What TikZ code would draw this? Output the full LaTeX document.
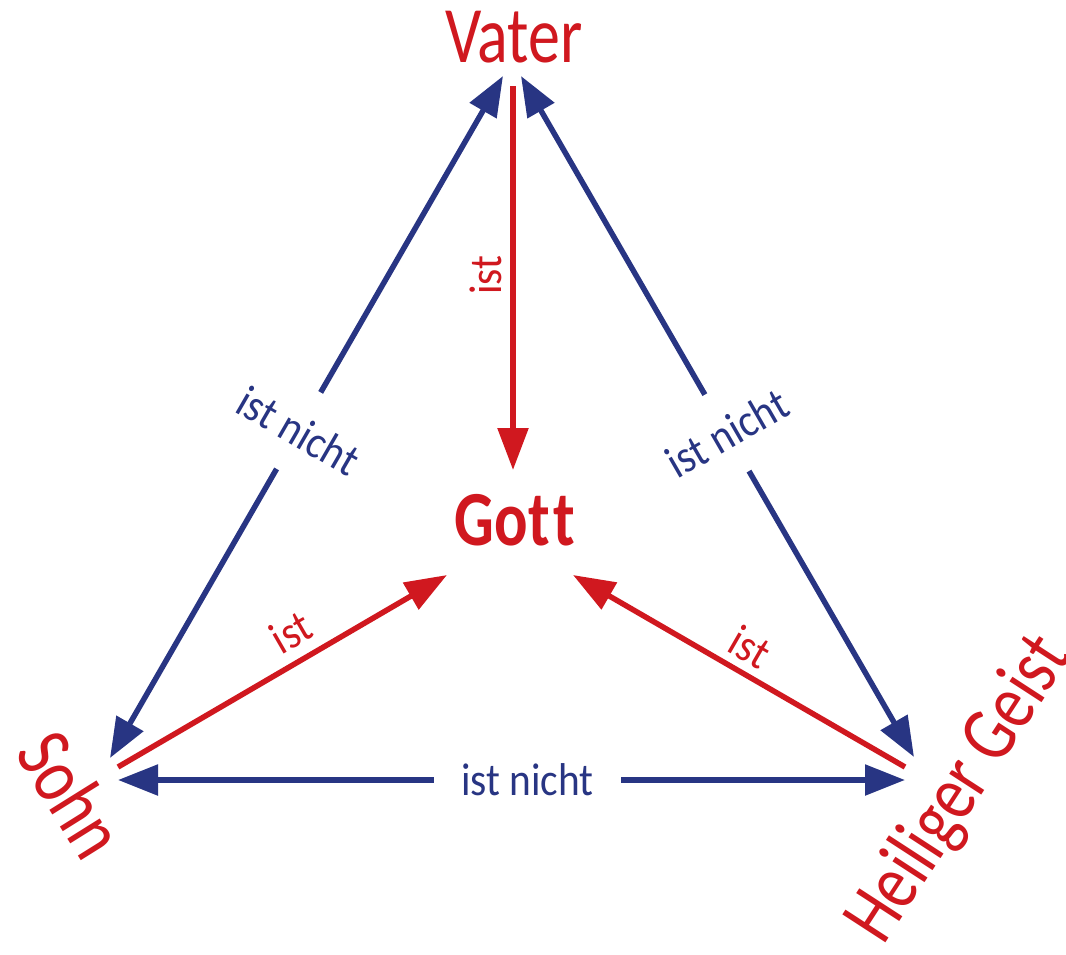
\documentclass[tikz,border=0pt]{standalone}
\usepackage{fontspec}
\setmainfont{Carlito}
\newfontfamily\bigfont{Carlito}[FakeStretch=0.8, Ligatures=NoCommon]
\newfontfamily\lblfont{Carlito}[FakeStretch=0.9]
\usetikzlibrary{arrows.meta}
\definecolor{tred}{HTML}{D0181F}
\definecolor{tblue}{HTML}{283583}
\tikzset{
  title/.style={text=tred, font=\bigfont\fontsize{80}{80}\selectfont, inner sep=0pt},
  lbl/.style={font=\lblfont\fontsize{46}{46}\selectfont, inner sep=0pt},
  bluearrow/.style={draw=tblue, line width=5.5pt, {Triangle[length=40pt,width=30pt]}-{Triangle[length=40pt,width=30pt]}},
  redarrow/.style={draw=tred, line width=5.5pt, -{Triangle[length=42pt,width=30pt]}},
  gapnode/.style={lbl, text=tblue, fill=white, inner xsep=2pt, minimum height=88pt},
  redlbl/.style={lbl, text=tred, anchor=south}
}
\begin{document}
\begin{tikzpicture}[x=1pt,y=-1pt]
\useasboundingbox[fill=white] (0,0) rectangle (1066,954);
% main nodes
\node[title, anchor=base] (vater) at (514,62) {Vater};
\node[title, anchor=base, font=\bigfont\bfseries\fontsize{78}{78}\selectfont] (gott) at (515,545) {Got\kern4pt t};
\node[title, rotate=-58] (sohn) at (72,794) {Sohn};
\node[title, rotate=57] (hg) at (960,790) {Heiliger Geist};
% connector end points
\coordinate (vL) at (503,76);
\coordinate (vR) at (521,76);
\coordinate (vC) at (513,86);
\coordinate (sA) at (110,758);
\coordinate (sR) at (118,767);
\coordinate (sB) at (118,780);
\coordinate (hA) at (914,757);
\coordinate (hR) at (905,767);
\coordinate (hB) at (905,780);
\coordinate (gV) at (513,470);
\coordinate (gL) at (447,575);
\coordinate (gR) at (573,575);
% blue "ist nicht" arrows
\draw[bluearrow] (sA) -- node[gapnode, pos=0.48, rotate=-30] (ln) {ist nicht} (vL);
\draw[bluearrow] (vR) -- node[gapnode, pos=0.524, rotate=30] (rn) {ist nicht} (hA);
\draw[bluearrow] (sB) -- node[gapnode, pos=0.52, minimum width=187pt, minimum height=20pt] (bn) {ist nicht} (hB);
% red "ist" arrows
\draw[redarrow] (vC) -- (gV);
\draw[redarrow] (sR) -- (gL);
\draw[redarrow] (hR) -- (gR);
\node[redlbl, rotate=90] (li1) at (502,275) {ist};
\node[redlbl, rotate=30] (li2) at (299,646) {ist};
\node[redlbl, rotate=-30] (li3) at (742,661) {ist};
\end{tikzpicture}
\end{document}
